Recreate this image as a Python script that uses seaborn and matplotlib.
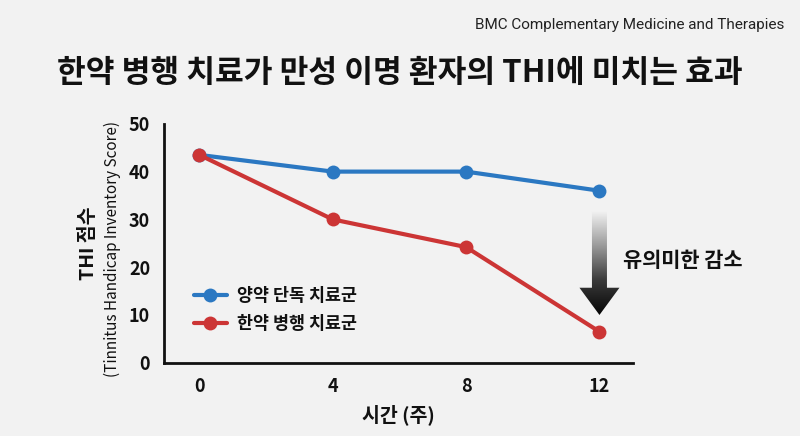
import numpy as np
import pandas as pd
import matplotlib
matplotlib.use("Agg")
import matplotlib.pyplot as plt
import seaborn as sns
from matplotlib.patches import Polygon

weeks = [0, 4, 8, 12]
western_only = [43.5, 40.0, 40.0, 36.0]
herbal_combined = [43.5, 30.0, 24.2, 6.5]
series_names = ["양약 단독 치료군", "한약 병행 치료군"]
x_ticks = [0, 4, 8, 12]
y_ticks = [0, 10, 20, 30, 40, 50]

title = "한약 병행 치료가 만성 이명 환자의 THI에 미치는 효과"
source = "BMC Complementary Medicine and Therapies"
annot = "유의미한 감소"

df = pd.DataFrame({
    "week": weeks * 2,
    "score": western_only + herbal_combined,
    "group": [series_names[0]] * 4 + [series_names[1]] * 4,
})

sns.set_theme(style="white")
BG = "#f2f2f2"
plt.rcParams["font.family"] = ["Noto Sans CJK KR", "DejaVu Sans"]
plt.rcParams["figure.facecolor"] = BG
plt.rcParams["axes.facecolor"] = BG

fig = plt.figure(figsize=(8, 4.36), dpi=100)
ax = fig.add_axes([0.205, 0.168, 0.586, 0.548])

palette = {series_names[0]: "#2b78c2", series_names[1]: "#cc3535"}
sns.lineplot(data=df, x="week", y="score", hue="group", palette=palette,
             marker="o", markersize=10, markeredgewidth=0, linewidth=3,
             ax=ax, zorder=3)

ax.set_xlim(-1.06, 13.0)
ax.set_ylim(0, 50)
ax.set_xticks(x_ticks)
ax.set_yticks(y_ticks)
for lab in ax.get_xticklabels() + ax.get_yticklabels():
    lab.set_fontsize(13)
    lab.set_fontweight("bold")
    lab.set_color("#111111")
ax.tick_params(axis="both", direction="out", length=6, width=2, color="#111111", pad=4)
for s in ["top", "right"]:
    ax.spines[s].set_visible(False)
for s in ["left", "bottom"]:
    ax.spines[s].set_linewidth(2)
    ax.spines[s].set_color("#111111")

ax.set_xlabel("시간 (주)", fontsize=14, fontweight="bold", color="#111111", labelpad=6)
ax.set_ylabel("")
fig.text(0.110, 0.443, "THI 점수", rotation=90, ha="center", va="center",
         fontsize=14, fontweight="bold", color="#111111")
fig.text(0.141, 0.428, "(Tinnitus Handicap Inventory Score)", rotation=90,
         ha="center", va="center", fontsize=11, color="#111111")

leg = ax.legend(loc="lower left", bbox_to_anchor=(0.03, 0.06), frameon=False,
                fontsize=12.5, handlelength=1.9, labelspacing=0.55, handletextpad=0.6)
for t in leg.get_texts():
    t.set_color("#111111")
    t.set_fontweight("bold")

# gradient arrow
xa = weeks[-1]
top = western_only[-1] - 4.4
tip = herbal_combined[-1] + 3.5
hb = herbal_combined[-1] + 9.2
sw, hw = 0.225, 0.6
poly = Polygon([[xa - sw, top], [xa + sw, top], [xa + sw, hb], [xa + hw, hb],
                [xa, tip], [xa - hw, hb], [xa - sw, hb]], closed=True,
               facecolor="none", edgecolor="none", transform=ax.transData)
ax.add_patch(poly)
grad = np.linspace(0, 1, 256).reshape(-1, 1)
cmap = matplotlib.colors.LinearSegmentedColormap.from_list(
    "g", ["#f2f2f2", "#9a9a9a", "#3a3a3a", "#050505"])
im = ax.imshow(grad, extent=[xa - hw, xa + hw, tip, top], origin="upper",
               cmap=cmap, aspect="auto", zorder=2)
im.set_clip_path(poly)
ax.set_xlim(-1.06, 13.0)
ax.set_ylim(0, 50)

ax.text(12.72, 21.5, annot, ha="left", va="center", fontsize=15,
        fontweight="bold", color="#111111", clip_on=False)

fig.text(0.5, 0.832, title, ha="center", va="center", fontsize=22.5,
         fontweight="bold", color="#111111")
fig.text(0.98, 0.943, source, ha="right", va="center", fontsize=11,
         color="#222222", family=["Roboto", "DejaVu Sans"])

fig.savefig("out.png", dpi=100, facecolor=BG)
